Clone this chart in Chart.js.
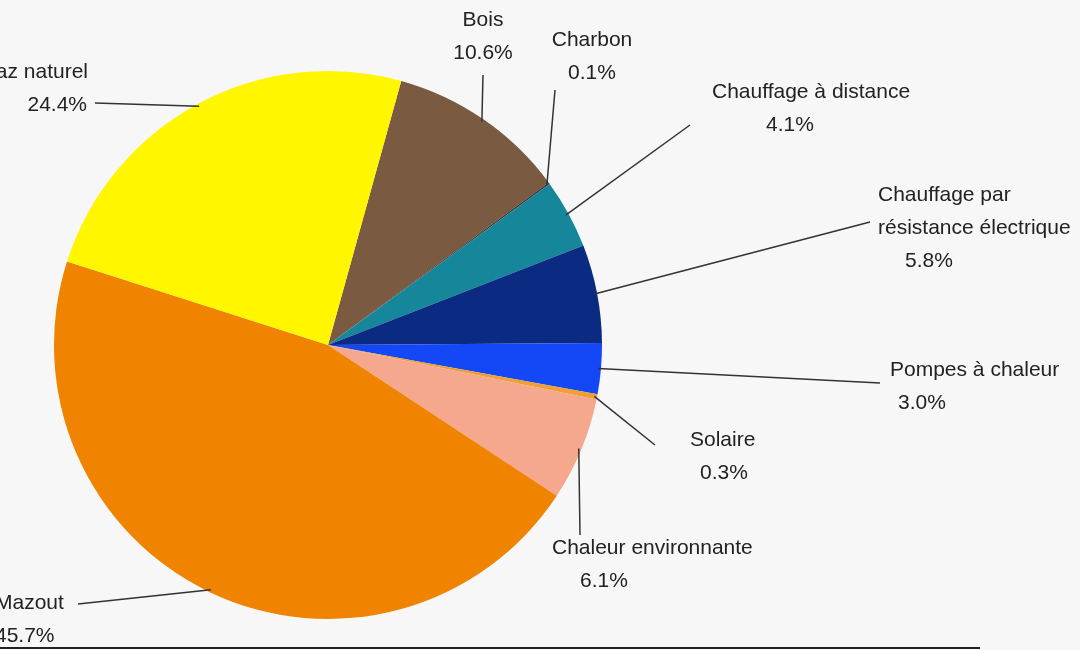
<!DOCTYPE html>
<html>
<head>
<meta charset="utf-8">
<script src="https://cdn.jsdelivr.net/npm/chart.js@4"></script>
<style>
  html, body { margin: 0; padding: 0; background: #f7f7f7; }
  canvas { display: block; }
</style>
</head>
<body>
<canvas id="camembert" width="1080" height="650"></canvas>
<script>
// Répartition des agents énergétiques (en %)
const categories = ["Bois", "Charbon", "Chauffage à distance", "Chauffage par résistance électrique",
  "Pompes à chaleur", "Solaire", "Chaleur environnante", "Mazout", "Gaz naturel"];
const valeurs = [10.6, 0.1, 4.1, 5.8, 3.0, 0.3, 6.1, 45.7, 24.4];
const couleurs = ["#7a5a40", "#3a3a3a", "#16879a", "#0b2a82", "#1447f5", "#f0a030", "#f6a88e", "#f08300", "#fff600"];

// Lignes de texte des étiquettes
const etiquettes = [
  ["Bois", "10.6%"], ["Charbon", "0.1%"], ["Chauffage à distance", "4.1%"],
  ["Chauffage par", "résistance électrique", "5.8%"], ["Pompes à chaleur", "3.0%"],
  ["Solaire", "0.3%"], ["Chaleur environnante", "6.1%"], ["Mazout", "45.7%"], ["Gaz naturel", "24.4%"]
];

// Position des étiquettes : [x, y première ligne, alignement, décalages x par ligne, début du trait]
const placements = [
  { x: 483, y: 20, align: "center", dx: [0, 0], trait: [483, 75] },
  { x: 592, y: 40, align: "center", dx: [0, 0], trait: [555, 90] },
  { x: 712, y: 92, align: "left", dx: [0, 54], trait: [690, 125] },
  { x: 878, y: 195, align: "left", dx: [0, 0, 27], trait: [870, 222] },
  { x: 890, y: 370, align: "left", dx: [0, 8], trait: [880, 383] },
  { x: 690, y: 440, align: "left", dx: [0, 10], trait: [655, 445] },
  { x: 552, y: 548, align: "left", dx: [0, 28], trait: [580, 535] },
  { x: -5, y: 603, align: "left", dx: [0, 0], trait: [78, 604] },
  { x: 88, y: 72, align: "right", dx: [0, -1], trait: [95, 103] }
];

const etiquettesPlugin = {
  id: "etiquettes",
  afterDraw(chart) {
    const ctx = chart.ctx;
    const arcs = chart.getDatasetMeta(0).data;
    ctx.save();
    ctx.font = "21px 'Liberation Sans', Arial, sans-serif";
    ctx.fillStyle = "#222";
    ctx.strokeStyle = "#333";
    ctx.lineWidth = 1.5;
    ctx.textBaseline = "middle";
    arcs.forEach((arc, i) => {
      const p = placements[i];
      const milieu = (arc.startAngle + arc.endAngle) / 2;
      const r = arc.outerRadius * 0.99;
      ctx.beginPath();
      ctx.moveTo(p.trait[0], p.trait[1]);
      ctx.lineTo(arc.x + Math.cos(milieu) * r, arc.y + Math.sin(milieu) * r);
      ctx.stroke();
      ctx.textAlign = p.align;
      etiquettes[i].forEach((ligne, j) => {
        ctx.fillText(ligne, p.x + p.dx[j], p.y + j * 33);
      });
    });
    // trait en bas de l'image
    ctx.strokeStyle = "#222";
    ctx.lineWidth = 2;
    ctx.beginPath();
    ctx.moveTo(0, 648);
    ctx.lineTo(980, 648);
    ctx.stroke();
    ctx.restore();
  }
};

new Chart(document.querySelector("#camembert"), {
  type: "pie",
  data: {
    labels: categories,
    datasets: [{
      data: valeurs,
      backgroundColor: couleurs,
      borderWidth: 0
    }]
  },
  options: {
    responsive: false,
    animation: false,
    rotation: 15.5,
    layout: { padding: { left: 54, top: 71, right: 478, bottom: 31 } },
    plugins: { legend: { display: false }, tooltip: { enabled: false } }
  },
  plugins: [etiquettesPlugin]
});
</script>
</body>
</html>
